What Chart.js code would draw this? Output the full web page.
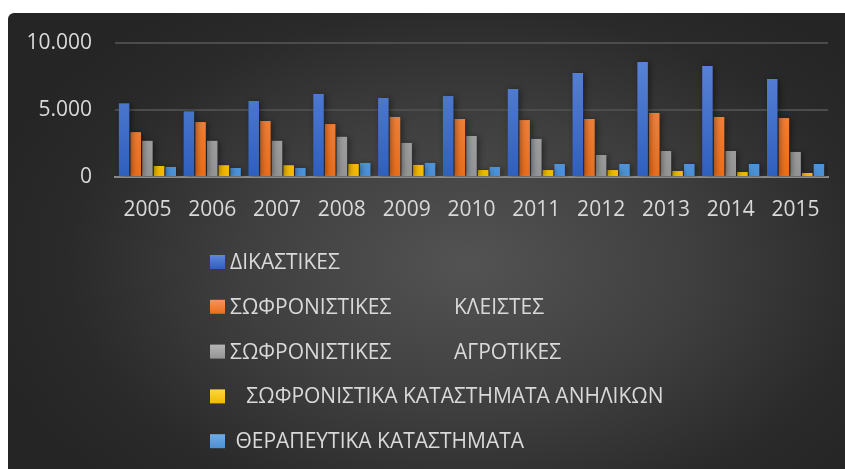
<!DOCTYPE html>
<html>
<head>
<meta charset="utf-8">
<script src="https://cdn.jsdelivr.net/npm/chart.js@4"></script>
<style>
  html, body { margin: 0; padding: 0; background: #fff; }
  #panel {
    position: absolute; left: 8px; top: 13px; width: 837px; height: 456px;
    border-top-left-radius: 6px; overflow: hidden;
    background: radial-gradient(ellipse 60% 70% at 55% 55%, #535353 0%, #3f3f3f 45%, #2a2a2a 80%, #252525 100%);
  }
  #panel canvas { display: block; }
</style>
</head>
<body>
<div id="panel"><canvas id="chart" width="837" height="456"></canvas></div>
<script>
const years = ['2005', '2006', '2007', '2008', '2009', '2010', '2011', '2012', '2013', '2014', '2015'];
const dikastikes = [5500, 4900, 5670, 6200, 5900, 6040, 6570, 7760, 8580, 8280, 7310];
const sofrKleistes = [3350, 4100, 4180, 3950, 4480, 4330, 4250, 4330, 4780, 4480, 4400];
const sofrAgrotikes = [2700, 2700, 2700, 3000, 2540, 3060, 2840, 1640, 1940, 1940, 1870];
const anilikon = [820, 880, 880, 970, 900, 520, 520, 520, 450, 370, 300];
const therapeutika = [750, 670, 670, 1050, 1050, 750, 970, 970, 970, 970, 970];

const seriesNames = [
  'ΔΙΚΑΣΤΙΚΕΣ',
  'ΣΩΦΡΟΝΙΣΤΙΚΕΣ\tΚΛΕΙΣΤΕΣ',
  'ΣΩΦΡΟΝΙΣΤΙΚΕΣ\tΑΓΡΟΤΙΚΕΣ',
  '   ΣΩΦΡΟΝΙΣΤΙΚΑ ΚΑΤΑΣΤΗΜΑΤΑ ΑΝΗΛΙΚΩΝ',
  ' ΘΕΡΑΠΕΥΤΙΚΑ ΚΑΤΑΣΤΗΜΑΤΑ'
];
// top / bottom colour of each bar gradient
const seriesColors = [
  ['#5f88d8', '#2f5fbe'],
  ['#f5955c', '#e86d1c'],
  ['#b5b5b5', '#949494'],
  ['#ffd640', '#f2b800'],
  ['#6fade6', '#4a90d6']
];

const FONT = '"Open Sans", "Noto Sans", sans-serif';
const TEXT = '#d9d9d9';

function barFill(i) {
  return function (context) {
    const area = context.chart.chartArea;
    if (!area) return seriesColors[i][1];
    const g = context.chart.ctx.createLinearGradient(0, area.top, 0, area.bottom);
    g.addColorStop(0, seriesColors[i][0]);
    g.addColorStop(1, seriesColors[i][1]);
    return g;
  };
}

const allValues = [dikastikes, sofrKleistes, sofrAgrotikes, anilikon, therapeutika];

// legend drawn one item per row, like the original
const listLegend = {
  id: 'listLegend',
  afterDraw(chart) {
    const ctx = chart.ctx;
    ctx.save();
    ctx.font = '21px ' + FONT;
    ctx.textBaseline = 'middle';
    chart.data.datasets.forEach((ds, i) => {
      const y = 249 + i * 44.8;
      const g = ctx.createLinearGradient(0, y - 7, 0, y + 7);
      g.addColorStop(0, seriesColors[i][0]);
      g.addColorStop(1, seriesColors[i][1]);
      ctx.fillStyle = g;
      ctx.fillRect(202, y - 7, 15, 14);
      ctx.fillStyle = TEXT;
      const parts = ds.label.split('\t');
      ctx.fillText(parts[0], 222, y + 1);
      if (parts[1]) ctx.fillText(parts[1], 446, y + 1);
    });
    ctx.restore();
  }
};

const barShadow = {
  id: 'barShadow',
  beforeDatasetsDraw(chart) {
    const ctx = chart.ctx;
    ctx.save();
    ctx.shadowColor = 'rgba(0,0,0,0.45)';
    ctx.shadowBlur = 6;
    ctx.shadowOffsetX = 2;
    ctx.shadowOffsetY = 1;
  },
  afterDatasetsDraw(chart) {
    chart.ctx.restore();
  }
};

new Chart(document.getElementById('chart').getContext('2d'), {
  type: 'bar',
  data: {
    labels: years,
    datasets: allValues.map((vals, i) => ({
      label: seriesNames[i],
      data: vals,
      backgroundColor: barFill(i),
      borderWidth: 0,
      categoryPercentage: 0.9,
      barPercentage: 0.9
    }))
  },
  options: {
    responsive: false,
    animation: false,
    layout: { padding: { top: 30, right: 17, bottom: 242, left: 0 } },
    plugins: {
      legend: { display: false },
      tooltip: { enabled: false }
    },
    scales: {
      x: {
        afterFit: s => { s.height = 50; },
        grid: { display: false, drawTicks: false },
        border: { display: true, color: '#8c8c8c', width: 2 },
        ticks: { color: TEXT, font: { family: FONT, size: 21 }, padding: 20 }
      },
      y: {
        min: 0,
        max: 10000,
        afterFit: s => { s.width = 107; },
        grid: { color: '#4c4c4c', lineWidth: 2, drawTicks: true, tickLength: 23, tickColor: 'rgba(0,0,0,0)' },
        border: { display: false },
        ticks: {
          stepSize: 5000,
          color: TEXT,
          font: { family: FONT, size: 21 },
          padding: 0,
          callback: v => String(v).replace(/\B(?=(\d{3})+(?!\d))/g, '.')
        }
      }
    }
  },
  plugins: [barShadow, listLegend]
});
</script>
</body>
</html>
